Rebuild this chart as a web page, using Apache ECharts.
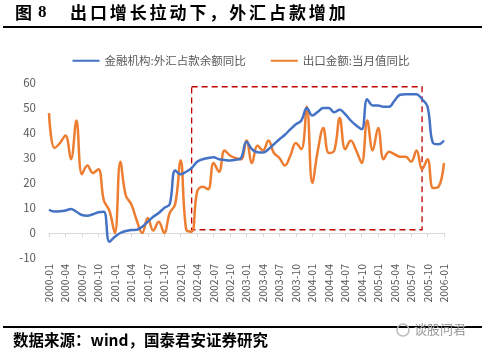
<!DOCTYPE html>
<html>
<head>
<meta charset="utf-8">
<script src="https://cdn.jsdelivr.net/npm/echarts@6/dist/echarts.min.js"></script>
<style>
html,body{margin:0;padding:0;background:#fff;}
#c{width:482px;height:353px;}
</style>
</head>
<body>
<div id="c"></div>
<script>
const months = [
'2000-01','2000-02','2000-03','2000-04','2000-05','2000-06','2000-07','2000-08','2000-09','2000-10','2000-11','2000-12',
'2001-01','2001-02','2001-03','2001-04','2001-05','2001-06','2001-07','2001-08','2001-09','2001-10','2001-11','2001-12',
'2002-01','2002-02','2002-03','2002-04','2002-05','2002-06','2002-07','2002-08','2002-09','2002-10','2002-11','2002-12',
'2003-01','2003-02','2003-03','2003-04','2003-05','2003-06','2003-07','2003-08','2003-09','2003-10','2003-11','2003-12',
'2004-01','2004-02','2004-03','2004-04','2004-05','2004-06','2004-07','2004-08','2004-09','2004-10','2004-11','2004-12',
'2005-01','2005-02','2005-03','2005-04','2005-05','2005-06','2005-07','2005-08','2005-09','2005-10','2005-11','2005-12',
'2006-01'];

const fxReserveYoY = [
9.3, 8.6, 8.7, 9.0, 9.6, 8.5, 7.2, 6.9, 7.5, 8.3, 8.5, -3.5,
-1.5, 0.0, 0.8, 1.2, 1.3, 2.5, 4.5, 6.5, 8.0, 10.0, 11.5, 25.0,
23.5, 24.5, 26.0, 28.5, 29.5, 30.0, 30.3, 29.5, 29.2, 29.0, 29.3, 30.0,
36.5, 33.5, 32.3, 32.2, 33.5, 35.5, 37.5, 39.3, 41.5, 43.5, 45.0, 50.0,
47.0, 48.5, 50.0, 50.0, 48.3, 49.3, 47.5, 45.0, 43.0, 41.5, 53.5, 51.0,
51.0, 50.5, 50.5, 53.0, 55.3, 55.5, 55.5, 55.5, 53.5, 50.5, 36.0, 35.5,
37.0];

const exportYoY = [
48.0, 34.0, 36.0, 39.0, 29.5, 45.0, 23.5, 27.0, 24.0, 25.5, 13.0, 9.0,
0.0, 28.5, 15.0, 11.5, 5.0, 0.0, 6.0, 1.0, 4.5, 0.0, 8.0, 11.5,
29.0, 1.5, 0.5, 16.5, 18.5, 17.5, 28.0, 24.5, 33.0, 31.0, 30.0, 29.5,
37.0, 28.0, 35.0, 33.0, 37.0, 32.0, 30.0, 27.0, 31.0, 36.0, 33.5, 50.5,
20.0, 33.0, 42.0, 32.0, 33.0, 46.0, 33.5, 37.0, 33.0, 28.0, 45.0, 33.0,
42.0, 29.5, 32.5, 31.5, 30.5, 30.5, 28.5, 33.0, 25.5, 29.5, 18.0, 18.5,
28.0];

const seriesNames = ['金融机构:外汇占款余额同比', '出口金额:当月值同比'];
const yTicks = { min: -10, max: 60, interval: 10 };
const boxRange = { from: '2002-03', to: '2005-09', top: 58.5, bottom: 1.3 };
const titleChars = '出口增长拉动下，外汇占款增加';

const chart = echarts.init(document.getElementById('c'), null, {renderer: 'canvas'});
const grey = '#595959';
const cjk = '"Noto Sans CJK SC", "Noto Sans", sans-serif';

const titleGraphics = titleChars.split('').map(function (ch, k) {
  return { type: 'text', left: 70 + k * 19.9, top: 4, style: { text: ch, font: 'bold 17px ' + cjk, fill: '#000' } };
});

chart.setOption({
  animation: false,
  backgroundColor: '#fff',
  textStyle: { fontFamily: cjk },
  graphic: [
    { type: 'text', left: 15, top: 4, style: { text: '图', font: 'bold 17px ' + cjk, fill: '#000' } },
    { type: 'text', left: 38, top: 4, style: { text: '8', font: 'bold 17px "Liberation Serif", serif', fill: '#000' } }
  ].concat(titleGraphics).concat([
    { type: 'rect', shape: { x: 3, y: 26, width: 479, height: 2 }, style: { fill: '#000' } },
    { type: 'rect', shape: { x: 3, y: 326, width: 479, height: 2 }, style: { fill: '#000' } },
    { type: 'text', left: 13, top: 332, style: { text: '数据来源：wind，国泰君安证券研究', font: 'bold 15.5px ' + cjk, fill: '#000' } },
    { type: 'circle', shape: { cx: 403, cy: 330, r: 6 }, style: { fill: 'none', stroke: '#bbb', lineWidth: 1.5 } },
    { type: 'text', left: 414, top: 323, style: { text: '谈股问君', font: '13px ' + cjk, fill: '#999' } }
  ]),
  legend: {
    top: 50,
    left: 'center',
    itemWidth: 27,
    itemHeight: 2,
    itemGap: 25,
    icon: 'rect',
    textStyle: { color: grey, fontSize: 11.5, fontFamily: cjk },
    data: seriesNames
  },
  grid: { left: 49, right: 38, top: 83, bottom: 95 },
  xAxis: [
    {
      type: 'category',
      data: months,
      boundaryGap: false,
      axisLine: { show: false, onZero: false },
      axisTick: { show: false },
      axisLabel: { interval: 2, rotate: 90, color: grey, fontSize: 10.5, margin: 6, fontFamily: cjk }
    },
    {
      type: 'category',
      data: months,
      boundaryGap: false,
      position: 'bottom',
      axisLine: { show: true, onZero: true, lineStyle: { color: '#d9d9d9', width: 1 } },
      axisTick: { show: true, interval: 2, length: 4, lineStyle: { color: '#d9d9d9' } },
      axisLabel: { show: false }
    }
  ],
  yAxis: {
    type: 'value',
    min: yTicks.min, max: yTicks.max, interval: yTicks.interval,
    axisLine: { show: false },
    axisTick: { show: false },
    splitLine: { show: false },
    axisLabel: { color: grey, fontSize: 11.5, margin: 13, fontFamily: cjk }
  },
  series: [
    {
      name: seriesNames[0], type: 'line', data: fxReserveYoY,
      smooth: 0.4, showSymbol: false,
      lineStyle: { color: '#4472c4', width: 2.5 },
      itemStyle: { color: '#4472c4' },
      z: 3
    },
    {
      name: seriesNames[1], type: 'line', data: exportYoY,
      smooth: 0.4, showSymbol: false,
      lineStyle: { color: '#ed7d31', width: 2.5 },
      itemStyle: { color: '#ed7d31' },
      z: 2,
      markArea: {
        silent: true,
        itemStyle: { color: 'rgba(0,0,0,0)', borderColor: '#c00000', borderWidth: 1.3, borderType: [6, 4] },
        data: [[{ xAxis: boxRange.from, yAxis: boxRange.top }, { xAxis: boxRange.to, yAxis: boxRange.bottom }]]
      }
    }
  ]
});
</script>
</body>
</html>
